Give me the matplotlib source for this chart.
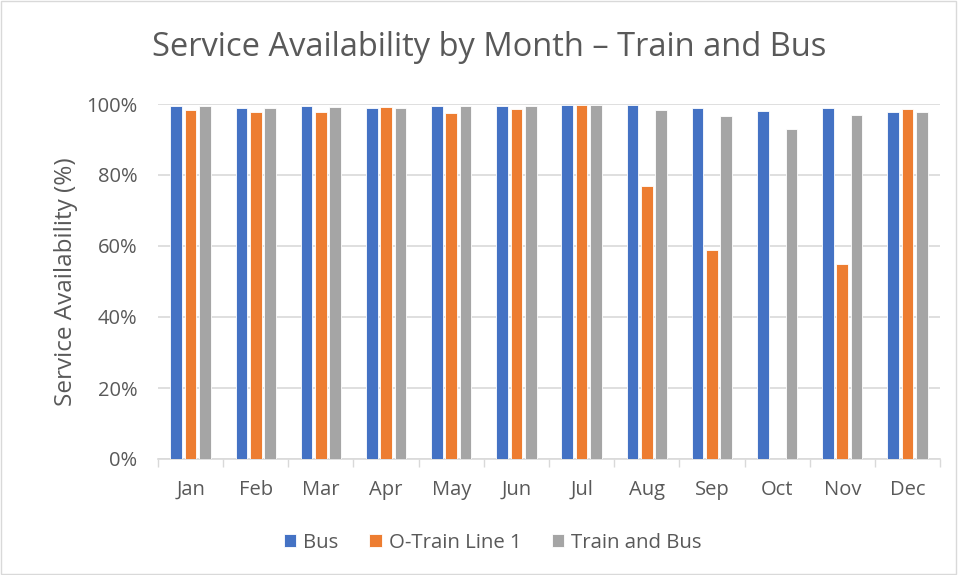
import matplotlib
matplotlib.use("Agg")
import matplotlib.pyplot as plt
import numpy as np
from matplotlib.patches import Rectangle

months = ["Jan", "Feb", "Mar", "Apr", "May", "Jun", "Jul", "Aug", "Sep", "Oct", "Nov", "Dec"]
bus = [99.4, 98.9, 99.3, 99.0, 99.5, 99.5, 99.7, 99.6, 98.8, 97.9, 98.8, 97.7]
otrain = [98.4, 97.7, 97.7, 99.2, 97.4, 98.7, 99.6, 77.0, 59.0, 0.0, 55.0, 98.7]
train_bus = [99.3, 98.8, 99.2, 99.0, 99.4, 99.5, 99.7, 98.3, 96.7, 92.9, 96.8, 97.8]
series_names = ["Bus", "O-Train Line 1", "Train and Bus"]
colors = ["#4472C4", "#ED7D31", "#A5A5A5"]
yticks = [0, 20, 40, 60, 80, 100]

plt.rcParams['font.family'] = ['Open Sans', 'DejaVu Sans']
fig = plt.figure(figsize=(9.58, 5.75), dpi=100)
ax = fig.add_axes([158/958, 1-459/575, (940-158)/958, (459-104)/575])

x = np.arange(len(months))
step = 0.22
width = 0.18
for i, (vals, name, c) in enumerate(zip([bus, otrain, train_bus], series_names, colors)):
    ax.bar(x + (i-1)*step, vals, width=width, color=c, edgecolor="white", linewidth=0.6, label=name, zorder=3)

ax.set_xlim(-0.5, len(months)-0.5)
ax.set_ylim(0, 100)
ax.set_yticks(yticks)
ax.set_yticklabels([f"{t}%" for t in yticks])
ax.set_xticks(x)
ax.set_xticklabels(months)
ax.set_xticks(np.arange(-0.5, len(months), 1), minor=True)
ax.tick_params(axis='x', which='major', length=0, pad=15, labelsize=14.5, colors="#595959")
ax.tick_params(axis='x', which='minor', length=6, color="#D9D9D9", width=1)
ax.tick_params(axis='y', length=0, pad=15, labelsize=14.5, colors="#595959")
ax.grid(axis='y', color="#D9D9D9", linewidth=1.2, zorder=0)
for s in ['top', 'right', 'left']:
    ax.spines[s].set_visible(False)
ax.spines['bottom'].set_color("#D9D9D9")
ax.spines['bottom'].set_linewidth(1.2)
ax.set_ylabel("Service Availability (%)", fontsize=17.5, color="#595959", labelpad=6)

fig.text(489/958, 1-48/575, "Service Availability by Month \u2013 Train and Bus", ha='center', va='center',
         fontsize=23.5, color="#595959")

leg = fig.legend(loc='center', bbox_to_anchor=(493/958, 1-543/575), ncol=3, frameon=False,
                 fontsize=14.7, handlelength=0.6, handleheight=0.6, columnspacing=1.5, handletextpad=0.35)
for t in leg.get_texts():
    t.set_color("#595959")

fig.patches.append(Rectangle((0.001, 0.002), 0.997, 0.996, transform=fig.transFigure, fill=False,
                             edgecolor="#D9D9D9", linewidth=1))

fig.savefig("out.png", dpi=100)
